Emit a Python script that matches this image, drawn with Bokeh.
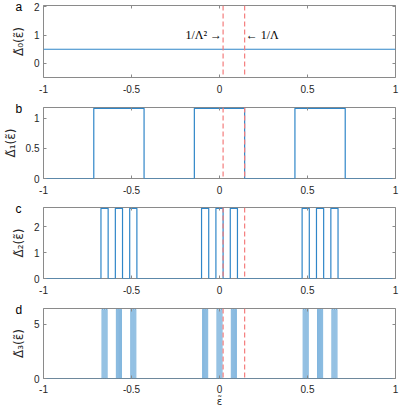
from bokeh.plotting import figure
from bokeh.layouts import column
from bokeh.models import Span, Label, LinearAxis, FixedTicker, Range1d
from bokeh.embed import file_html
from bokeh.resources import INLINE

# ---------------- data ----------------
eps_range = [-1.0, 1.0]
inv_lambda = 0.142857      # 1/Lambda
inv_lambda2 = 0.020408     # 1/Lambda^2

height0 = 0.5
height1 = 1.1667
height2 = 2.7222
height3 = 6.3519

level1_start = [-0.7143, -0.1429, 0.4286]
level1_end = [-0.4286, 0.1429, 0.7143]

level2_start = [-0.6735, -0.5918, -0.5102, -0.1020, -0.0204, 0.0612, 0.4694, 0.5510, 0.6327]
level2_end = [-0.6327, -0.5510, -0.4694, -0.0612, 0.0204, 0.1020, 0.5102, 0.5918, 0.6735]

level3_start = [-0.66764, -0.65598, -0.64431, -0.58601, -0.57434, -0.56268,
                -0.50437, -0.49271, -0.48105, -0.09621, -0.08455, -0.07289,
                -0.01458, -0.00292, 0.00875, 0.06706, 0.07872, 0.09038,
                0.47522, 0.48688, 0.49854, 0.55685, 0.56851, 0.58017,
                0.63848, 0.65015, 0.66181]
level3_end = [-0.66181, -0.65015, -0.63848, -0.58017, -0.56851, -0.55685,
              -0.49854, -0.48688, -0.47522, -0.09038, -0.07872, -0.06706,
              -0.00875, 0.00292, 0.01458, 0.07289, 0.08455, 0.09621,
              0.48105, 0.49271, 0.50437, 0.56268, 0.57434, 0.58601,
              0.64431, 0.65598, 0.66764]

x_ticks = [-1, -0.5, 0, 0.5, 1]
x_tick_labels = ["-1", "-0.5", "0", "0.5", "1"]

BLUE = "#2F86C8"
RED = "#F47C7C"
AXC = "#262626"
BOXC = "#8a8a8a"
TICKFONT = "Liberation Sans"


def step_xy(starts, ends, h):
    xs = [eps_range[0]]
    ys = [0.0]
    for s, e in zip(starts, ends):
        xs += [s, s, e, e]
        ys += [0.0, h, h, 0.0]
    xs.append(eps_range[1])
    ys.append(0.0)
    return xs, ys


def make_panel(height, top, bottom, yr, yticks, ylabel, letter):
    p = figure(width=399, height=height, x_range=Range1d(*eps_range),
               y_range=Range1d(*yr), output_backend="svg", toolbar_location=None,
               min_border_left=40, min_border_right=4,
               min_border_top=top, min_border_bottom=bottom)
    p.xgrid.visible = False
    p.ygrid.visible = False
    p.outline_line_color = BOXC
    p.background_fill_color = "white"
    p.border_fill_color = "white"

    # panel letter as (overlapping) title
    p.title.text = letter
    p.title.align = "left"
    p.title.offset = -28
    p.title.standoff = -16
    p.title.text_font = TICKFONT
    p.title.text_font_size = "12px"
    p.title.text_font_style = "normal"
    p.title.text_color = "black"

    xax = p.below[0]
    yax = p.left[0]
    for ax in (xax, yax):
        ax.axis_line_color = None
        ax.major_tick_line_color = BOXC
        ax.major_tick_in = 3
        ax.major_tick_out = 0
        ax.minor_tick_line_color = None
        ax.major_label_text_font = TICKFONT
        ax.major_label_text_font_size = "10px"
        ax.major_label_text_color = AXC
    xax.major_label_standoff = 7
    yax.major_label_standoff = 4
    xax.ticker = FixedTicker(ticks=x_ticks)
    xax.major_label_overrides = {t: l for t, l in zip(x_ticks, x_tick_labels)}
    yax.ticker = FixedTicker(ticks=yticks)
    yax.axis_label = ylabel
    yax.axis_label_text_font = "DejaVu Sans"
    yax.axis_label_text_font_size = "12px"
    yax.axis_label_text_font_style = "normal"
    yax.axis_label_text_color = AXC
    yax.axis_label_standoff = 5

    # mirrored ticks (box on): label-free minor ticks only
    for loc, ticks in (("right", yticks), ("above", x_ticks)):
        ax = LinearAxis(ticker=FixedTicker(ticks=[], minor_ticks=ticks))
        ax.axis_line_color = None
        ax.major_tick_line_color = None
        ax.minor_tick_line_color = BOXC
        ax.minor_tick_in = 3
        ax.minor_tick_out = 0
        ax.major_label_standoff = 0
        p.add_layout(ax, loc)

    for loc in (inv_lambda2, inv_lambda):
        p.add_layout(Span(location=loc, dimension="height", line_color=RED,
                          line_dash="5 3", line_width=1.2))
    return p


def top_of(h, px):
    return h + h / px * 0.8


pa = make_panel(100, 5, 23, (-0.5, 2.05), [0, 1, 2], "Δ̃₀(ε̃)", "a")
pa.line([eps_range[0], eps_range[1]], [height0, height0], line_color=BLUE, line_width=1.2)
pa.add_layout(Label(x=inv_lambda2, y=1.0, text="1/Λ² →", text_font="Liberation Serif",
                    text_font_size="12px", text_align="right", text_baseline="middle",
                    x_offset=-1, text_color="black"))
pa.add_layout(Label(x=inv_lambda, y=1.0, text="← 1/Λ", text_font="Liberation Serif",
                    text_font_size="12px", text_align="left", text_baseline="middle",
                    x_offset=1, text_color="black"))

pb = make_panel(100, 7, 22, (0, top_of(height1, 71)), [0, 0.5, 1], "Δ̃₁(ε̃)", "b")
xs, ys = step_xy(level1_start, level1_end, height1)
pb.line(xs, ys, line_color=BLUE, line_width=1.2)

pc = make_panel(100, 7, 22, (0, top_of(height2, 71)), [0, 1, 2], "Δ̃₂(ε̃)", "c")
xs, ys = step_xy(level2_start, level2_end, height2)
pc.line(xs, ys, line_color=BLUE, line_width=1.2)

pd = make_panel(111, 8, 33, (0, top_of(height3, 70)), [0, 5], "Δ̃₃(ε̃)", "d")
xs, ys = step_xy(level3_start, level3_end, height3)
pd.line(xs, ys, line_color=BLUE, line_width=1.0, line_alpha=0.6)
xd = pd.below[0]
xd.axis_label = "ε̃"
xd.axis_label_text_font = "DejaVu Sans"
xd.axis_label_text_font_size = "10px"
xd.axis_label_text_font_style = "normal"
xd.axis_label_text_color = AXC
xd.axis_label_standoff = 0
xd.major_label_standoff = 6

layout = column(pa, pb, pc, pd, spacing=0)
open("out.html", "w").write(file_html(layout, INLINE))
